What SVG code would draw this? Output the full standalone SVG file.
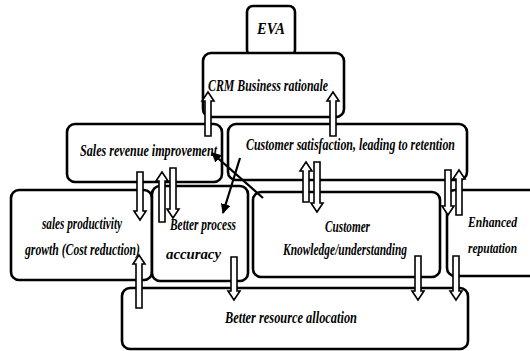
<svg xmlns="http://www.w3.org/2000/svg" width="530" height="351" viewBox="0 0 530 351">
<defs>
<style>
.box{fill:#fff;stroke:#000;stroke-width:2.6}
.blk{fill:#fff;stroke:#000;stroke-width:1.6;stroke-linejoin:miter}
.ln{fill:none;stroke:#000;stroke-width:2.2}
text{font-family:"Liberation Serif","Times New Roman",serif;font-style:italic;font-weight:bold;font-size:16px;fill:#000}
.sm{font-size:14px}
</style>
<marker id="ah" viewBox="0 0 10 10" refX="9" refY="5" markerWidth="4.5" markerHeight="4.5" orient="auto" markerUnits="strokeWidth">
<path d="M0,0 L10,5 L0,10 Z" fill="#000"/>
</marker>
</defs>
<rect width="530" height="351" fill="#fff"/>
<g id="eva"><rect class="box" x="247" y="6" width="48" height="50" rx="6"/><text x="257" y="34" textLength="28" lengthAdjust="spacingAndGlyphs">EVA</text></g>
<g id="crm"><rect class="box" x="203" y="53" width="141" height="64" rx="8"/><text x="208" y="91" textLength="120" lengthAdjust="spacingAndGlyphs">CRM Business rationale</text></g>
<g id="sales-revenue"><rect class="box" x="67" y="124" width="155" height="58" rx="8"/><text x="80" y="156" textLength="137" lengthAdjust="spacingAndGlyphs">Sales revenue improvement</text></g>
<g id="customer-satisfaction"><rect class="box" x="228" y="124" width="239" height="56" rx="8"/><text x="246" y="150" textLength="209" lengthAdjust="spacingAndGlyphs">Customer satisfaction, leading to retention</text></g>
<g id="sales-productivity"><rect class="box" x="11" y="190" width="141" height="90" rx="8"/><text x="42" y="229" textLength="80" lengthAdjust="spacingAndGlyphs">sales productivity</text><text x="25" y="255" textLength="115" lengthAdjust="spacingAndGlyphs">growth (Cost reduction)</text></g>
<g id="better-process"><rect class="box" x="152" y="186" width="96" height="95" rx="8"/><text x="170" y="230" textLength="66" lengthAdjust="spacingAndGlyphs">Better process</text><text class="sm" x="166" y="259" textLength="55" lengthAdjust="spacingAndGlyphs">accuracy</text></g>
<g id="customer-knowledge"><rect class="box" x="253" y="192" width="187" height="85" rx="8"/><text x="325" y="232" textLength="45" lengthAdjust="spacingAndGlyphs">Customer</text><text x="283" y="255" textLength="124" lengthAdjust="spacingAndGlyphs">Knowledge/understanding</text></g>
<g id="enhanced-reputation"><rect class="box" x="447" y="190" width="95" height="86" rx="8"/><text class="sm" x="468" y="227" textLength="49" lengthAdjust="spacingAndGlyphs">Enhanced</text><text class="sm" x="468" y="253" textLength="49" lengthAdjust="spacingAndGlyphs">reputation</text></g>
<g id="better-resource"><rect class="box" x="122" y="288" width="346" height="61" rx="8"/><text x="225" y="323" textLength="132" lengthAdjust="spacingAndGlyphs">Better resource allocation</text></g>
<g id="connectors">
<path class="blk" d="M202,101 L208,92 L214,101 L211,101 L211,136 L205,136 L205,101 Z"/>
<path class="blk" d="M327,101 L333,92 L339,101 L336,101 L336,136 L330,136 L330,101 Z"/>
<path class="blk" d="M134,211 L140,220 L146,211 L143,211 L143,172 L137,172 L137,211 Z"/>
<path class="blk" d="M156,181 L162,172 L168,181 L165,181 L165,222 L159,222 L159,181 Z"/>
<path class="blk" d="M167,209 L173,218 L179,209 L176,209 L176,168 L170,168 L170,209 Z"/>
<path class="blk" d="M300,171 L306,162 L312,171 L309,171 L309,202 L303,202 L303,171 Z"/>
<path class="blk" d="M311,203 L317,212 L323,203 L320,203 L320,162 L314,162 L314,203 Z"/>
<path class="blk" d="M442,206 L448,215 L454,206 L451,206 L451,170 L445,170 L445,206 Z"/>
<path class="blk" d="M453,179 L459,170 L465,179 L462,179 L462,215 L456,215 L456,179 Z"/>
<path class="blk" d="M133,264 L139,255 L145,264 L142,264 L142,308 L136,308 L136,264 Z"/>
<path class="blk" d="M228,291 L234,300 L240,291 L237,291 L237,257 L231,257 L231,291 Z"/>
<path class="blk" d="M412,291 L418,300 L424,291 L421,291 L421,256 L415,256 L415,291 Z"/>
<path class="blk" d="M450,291 L456,300 L462,291 L459,291 L459,256 L453,256 L453,291 Z"/>
<line class="ln" x1="263" y1="198" x2="212" y2="153" marker-end="url(#ah)"/>
<line class="ln" x1="240" y1="158" x2="223" y2="213" marker-end="url(#ah)"/>
</g>
</svg>
